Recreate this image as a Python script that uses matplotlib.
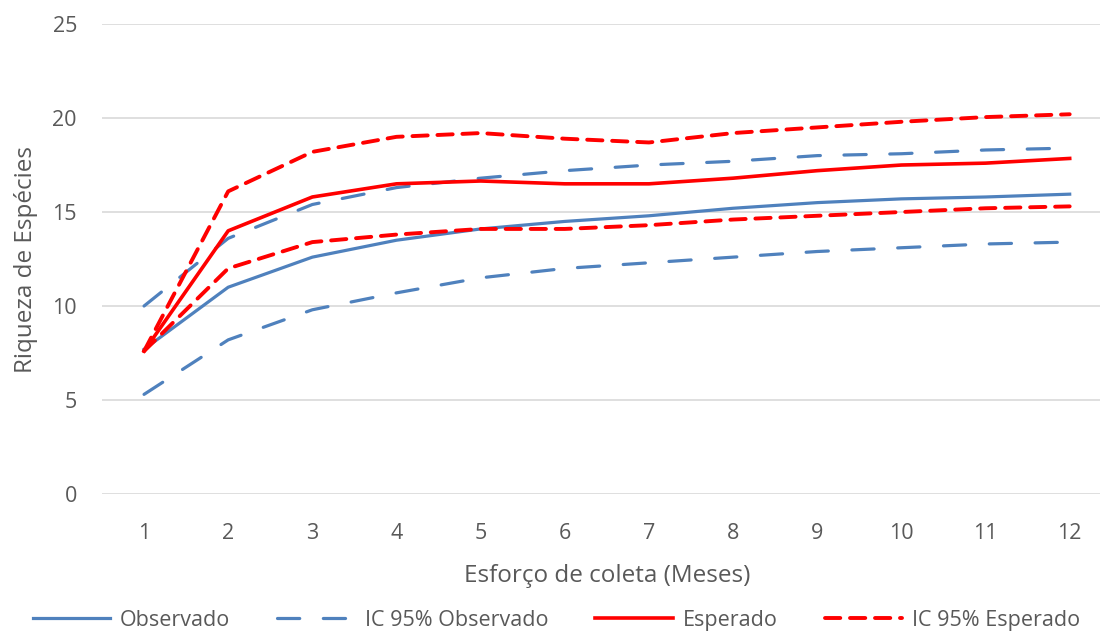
import matplotlib.pyplot as plt

plt.rcParams["font.family"] = ["Open Sans", "DejaVu Sans"]
plt.rcParams["lines.scale_dashes"] = False

meses = [1, 2, 3, 4, 5, 6, 7, 8, 9, 10, 11, 12]
observado = [7.7, 11.0, 12.6, 13.5, 14.1, 14.5, 14.8, 15.2, 15.5, 15.7, 15.8, 15.95]
ic_obs_sup = [10.0, 13.6, 15.4, 16.3, 16.8, 17.2, 17.5, 17.7, 18.0, 18.1, 18.3, 18.4]
ic_obs_inf = [5.3, 8.2, 9.8, 10.7, 11.5, 12.0, 12.3, 12.6, 12.9, 13.1, 13.3, 13.4]
esperado = [7.6, 14.0, 15.8, 16.5, 16.65, 16.5, 16.5, 16.8, 17.2, 17.5, 17.6, 17.85]
ic_esp_sup = [7.6, 16.1, 18.2, 19.0, 19.2, 18.9, 18.7, 19.2, 19.5, 19.8, 20.05, 20.2]
ic_esp_inf = [7.6, 12.0, 13.4, 13.8, 14.1, 14.1, 14.3, 14.6, 14.8, 15.0, 15.2, 15.3]

AZUL = "#4f81bd"
VERMELHO = "#ff0000"
CINZA = "#595959"

estilo_obs = dict(color=AZUL, lw=2.3)
estilo_ic_obs = dict(color=AZUL, lw=2.3, linestyle=(0, (16, 17)))
estilo_esp = dict(color=VERMELHO, lw=2.6)
estilo_ic_esp = dict(color=VERMELHO, lw=2.8, linestyle=(0, (11, 7)))

fig = plt.figure(figsize=(11, 6.34), dpi=100)
ax = fig.add_axes([0.0927, 0.2208, 0.918, 0.7413])

ax.plot(meses, observado, label="Observado", solid_joinstyle="round", **estilo_obs)
ax.plot(meses, ic_obs_sup, label="IC 95% Observado", dash_capstyle="round", **estilo_ic_obs)
ax.plot(meses, ic_obs_inf, dash_capstyle="round", **estilo_ic_obs)
ax.plot(meses, esperado, label="Esperado", solid_joinstyle="round", **estilo_esp)
ax.plot(meses, ic_esp_sup, label="IC 95% Esperado", dash_capstyle="round", **estilo_ic_esp)
ax.plot(meses, ic_esp_inf, dash_capstyle="round", **estilo_ic_esp)

ax.set_xlim(0.5, 12.5)
ax.set_ylim(0, 25)
ax.set_yticks([0, 5, 10, 15, 20, 25])
ax.set_xticks(meses)
ax.grid(axis="y", color="#d9d9d9", lw=1.2)
ax.set_axisbelow(True)
for s in ax.spines.values():
    s.set_visible(False)
ax.tick_params(axis="both", length=0, labelsize=15.5, labelcolor=CINZA)
ax.tick_params(axis="y", pad=18)
ax.tick_params(axis="x", pad=21)

ax.set_xlabel("Esforço de coleta (Meses)", fontsize=17.5, color=CINZA, labelpad=14)
ax.set_ylabel("Riqueza de Espécies", fontsize=17.5, color=CINZA, labelpad=10)

handles, rotulos = ax.get_legend_handles_labels()
fig.legend(
    handles, rotulos,
    loc="center left", bbox_to_anchor=(0.012, 0.022),
    ncol=4, frameon=False, fontsize=15.5, labelcolor=CINZA,
    handlelength=3.6, handletextpad=0.45, columnspacing=2.2,
)

fig.savefig("out.png", dpi=100)
